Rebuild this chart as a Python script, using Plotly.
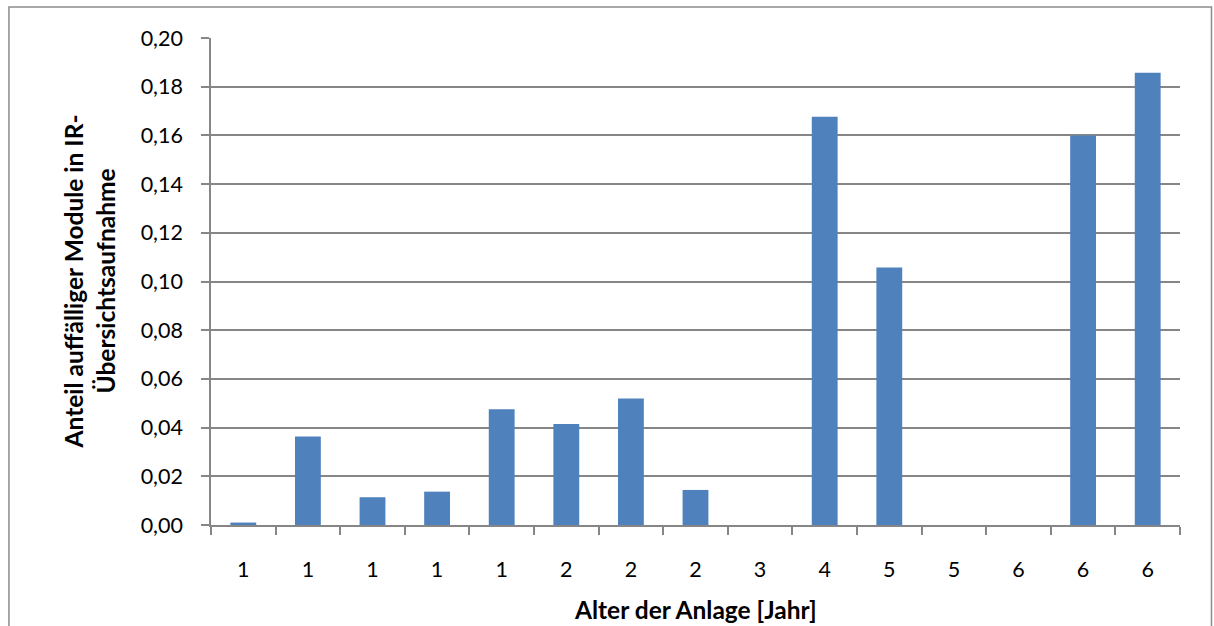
import plotly.graph_objects as go

# Age of each installation (years), one bar per installation
age_labels = ["1", "1", "1", "1", "1", "2", "2", "2", "3", "4", "5", "5", "6", "6", "6"]
# Share of conspicuous modules in the IR overview survey
share_flagged = [0.001, 0.0363, 0.0114, 0.0137, 0.0475, 0.0415, 0.052, 0.0144,
                 0.0, 0.1677, 0.1058, 0.0, 0.0, 0.160, 0.1857]
y_ticks = [0.00, 0.02, 0.04, 0.06, 0.08, 0.10, 0.12, 0.14, 0.16, 0.18, 0.20]

positions = list(range(len(age_labels)))
axis_grey = "#868686"
font_family = "Lato"
tick_size = 21.5
title_size = 24.5

fig = go.Figure(
    go.Bar(
        x=positions,
        y=share_flagged,
        width=0.4,
        marker=dict(color="#4F81BD", line=dict(width=0)),
        hoverinfo="y",
    )
)

fig.update_layout(
    width=1214,
    height=626,
    margin=dict(l=211, r=34, t=38, b=101),
    plot_bgcolor="white",
    paper_bgcolor="white",
    separators=",.",
    showlegend=False,
    font=dict(family=font_family, size=tick_size, color="#000000"),
)

fig.update_xaxes(
    range=[-0.5, len(age_labels) - 0.5],
    tickmode="array",
    tickvals=positions,
    ticktext=age_labels,
    ticks="",
    ticklabelstandoff=24,
    showline=True,
    linecolor=axis_grey,
    linewidth=1.5,
    showgrid=False,
    zeroline=False,
    minor=dict(
        tickmode="linear",
        tick0=-0.5,
        dtick=1,
        ticks="outside",
        ticklen=8,
        tickwidth=1.5,
        tickcolor=axis_grey,
        showgrid=False,
    ),
    tickfont=dict(size=tick_size),
)

fig.update_yaxes(
    range=[0, 0.2],
    tickmode="array",
    tickvals=y_ticks,
    tickformat=".2f",
    ticks="outside",
    ticklen=8,
    tickwidth=1.5,
    tickcolor=axis_grey,
    ticklabelstandoff=14,
    showline=True,
    linecolor=axis_grey,
    linewidth=1.5,
    showgrid=True,
    gridcolor=axis_grey,
    gridwidth=1.5,
    zeroline=False,
    tickfont=dict(size=tick_size),
)

# Axis titles
fig.add_annotation(
    text="<b>Anteil auffälliger Module in IR-<br>Übersichtsaufnahme</b>",
    xref="paper", yref="paper",
    x=-0.1249, y=0.5,
    xanchor="center", yanchor="middle",
    textangle=-90,
    showarrow=False,
    font=dict(size=title_size, family=font_family),
    align="center",
)
fig.add_annotation(
    text="<b>Alter der Anlage [Jahr]</b>",
    xref="paper", yref="paper",
    x=0.5, y=-0.1725,
    xanchor="center", yanchor="middle",
    showarrow=False,
    font=dict(size=title_size, family=font_family),
)

# Chart frame
fig.add_shape(
    type="rect",
    xref="paper", yref="paper",
    x0=-0.2085, x1=1.0325, y0=-0.3, y1=1.0637,
    line=dict(color="#8C8C8C", width=1.5),
    fillcolor="rgba(0,0,0,0)",
    layer="below",
)

fig.write_html("out.html")
